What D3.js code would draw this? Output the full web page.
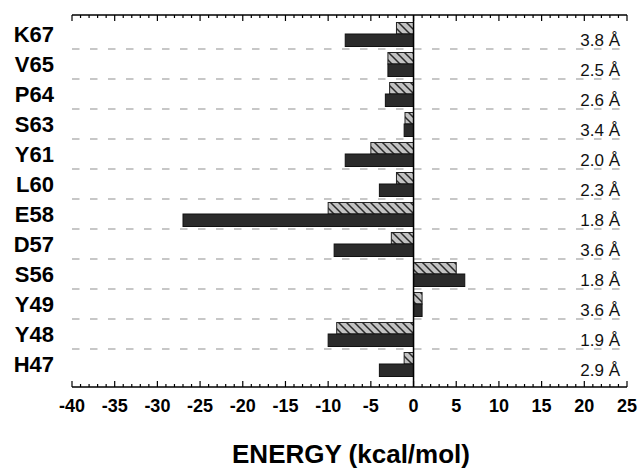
<!DOCTYPE html>
<html lang="en">
<head>
  <meta charset="UTF-8" />
  <title>Residue energy</title>
  <script src="https://d3js.org/d3.v7.min.js"></script>
  <style>
    body {
      margin: 0;
      background: #fff;
      font-family: "Liberation Sans", Arial, sans-serif;
    }
  </style>
</head>
<body>
  <svg width="638" height="468" id="chart"></svg>

  <script>
    const residues = ["K67", "V65", "P64", "S63", "Y61", "L60", "E58", "D57", "S56", "Y49", "Y48", "H47"];
    const hatched = [-2, -3, -2.8, -1, -5, -2, -10, -2.6, 5, 1, -9, -1.1];
    const solid = [-8, -3, -3.3, -1.1, -8, -4, -27, -9.3, 6, 1, -10, -4];
    const distances = ["3.8 Å", "2.5 Å", "2.6 Å", "3.4 Å", "2.0 Å", "2.3 Å", "1.8 Å", "3.6 Å", "1.8 Å", "3.6 Å", "1.9 Å", "2.9 Å"];
    const xTicks = [-40, -35, -30, -25, -20, -15, -10, -5, 0, 5, 10, 15, 20, 25];

    const svg = d3.select("#chart");
    const axisTop = 15, axisBottom = 387;

    const x = d3.scaleLinear().domain([-40, 25]).range([72, 627]);
    const y = d3.scaleBand().domain(residues).range([19, 379]);

    // hatch pattern for the first series
    const pat = svg.append("defs").append("pattern")
      .attr("id", "hatch")
      .attr("patternUnits", "userSpaceOnUse")
      .attr("width", 8).attr("height", 8);
    pat.append("rect").attr("width", 8).attr("height", 8).attr("fill", "#c2c2c2");
    pat.append("path")
      .attr("d", "M0,0L8,8M-2,6L2,10M6,-2L10,2")
      .attr("stroke", "#2a2a2a").attr("stroke-width", 1.5);

    // dashed separators between rows
    svg.append("g").selectAll("line")
      .data(residues.slice(1))
      .join("line")
      .attr("x1", 72).attr("x2", 622)
      .attr("y1", d => y(d)).attr("y2", d => y(d))
      .attr("stroke", "#b5b5b5")
      .attr("stroke-width", 1.3)
      .attr("stroke-dasharray", "7.5,10.5");

    const bars = svg.append("g");
    bars.selectAll(".h")
      .data(residues)
      .join("rect")
      .attr("class", "h")
      .attr("x", (d, i) => x(Math.min(0, hatched[i])))
      .attr("width", (d, i) => Math.abs(x(hatched[i]) - x(0)))
      .attr("y", d => y(d) + y.bandwidth() / 2 - 11.5)
      .attr("height", 11.5)
      .attr("fill", "url(#hatch)")
      .attr("stroke", "#222");

    bars.selectAll(".s")
      .data(residues)
      .join("rect")
      .attr("class", "s")
      .attr("x", (d, i) => x(Math.min(0, solid[i])))
      .attr("width", (d, i) => Math.abs(x(solid[i]) - x(0)))
      .attr("y", d => y(d) + y.bandwidth() / 2)
      .attr("height", 12.5)
      .attr("fill", "#2b2b2b")
      .attr("stroke", "#111");

    // zero line
    svg.append("line")
      .attr("x1", x(0)).attr("x2", x(0))
      .attr("y1", axisTop).attr("y2", axisBottom)
      .attr("stroke", "#000").attr("stroke-width", 1.5);

    // top and bottom axes, ticks pointing inwards
    const minor = d3.range(-40, 26, 1);
    function drawAxis(yPos, dir) {
      const g = svg.append("g");
      g.append("line")
        .attr("x1", x(-40)).attr("x2", x(25))
        .attr("y1", yPos).attr("y2", yPos)
        .attr("stroke", "#000").attr("stroke-width", 1.5);
      g.selectAll("line.t")
        .data(minor)
        .join("line")
        .attr("class", "t")
        .attr("x1", d => x(d)).attr("x2", d => x(d))
        .attr("y1", yPos)
        .attr("y2", d => yPos + dir * (d % 5 === 0 ? 6 : 3))
        .attr("stroke", "#000").attr("stroke-width", 1.2);
    }
    drawAxis(axisTop, 1);
    drawAxis(axisBottom, -1);

    svg.append("g").selectAll("text")
      .data(xTicks)
      .join("text")
      .attr("x", d => x(d))
      .attr("y", 412)
      .attr("text-anchor", "middle")
      .attr("font-size", 18)
      .attr("font-weight", "bold")
      .text(d => d);

    // residue names
    svg.append("g").selectAll("text")
      .data(residues)
      .join("text")
      .attr("x", 54)
      .attr("y", d => y(d) + y.bandwidth() / 2 + 8)
      .attr("text-anchor", "end")
      .attr("font-size", 22)
      .attr("font-weight", "bold")
      .text(d => d);

    // distance labels
    svg.append("g").selectAll("text")
      .data(residues)
      .join("text")
      .attr("x", 620)
      .attr("y", d => y(d) + y.bandwidth() / 2 + 12)
      .attr("text-anchor", "end")
      .attr("font-size", 17)
      .attr("fill", "#111")
      .text((d, i) => distances[i]);

    svg.append("text")
      .attr("x", 351)
      .attr("y", 463)
      .attr("text-anchor", "middle")
      .attr("font-size", 26)
      .attr("font-weight", "bold")
      .text("ENERGY (kcal/mol)");
  </script>
</body>
</html>
